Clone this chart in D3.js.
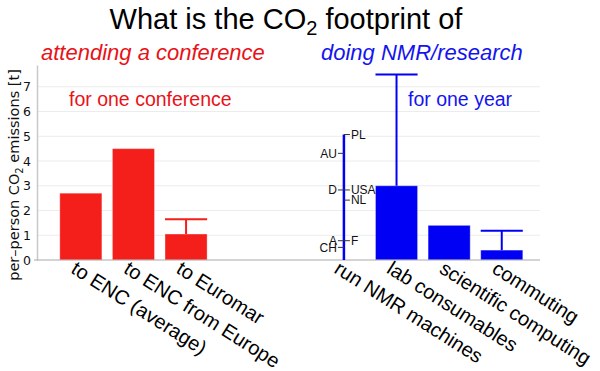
<!DOCTYPE html>
<html>
<head>
<meta charset="utf-8">
<script src="https://cdn.jsdelivr.net/npm/d3@7"></script>
<style>
  html, body { margin: 0; padding: 0; background: #fff; }
  svg { display: block; }
</style>
</head>
<body>
<svg id="chart" width="600" height="371"></svg>
<script>
// ---------- data ----------
const conferenceCategories = ["to ENC (average)", "to ENC from Europe", "to Euromar"];
const conferenceValues = [2.7, 4.5, 1.05];
const conferenceErrorTop = [null, null, 1.65];

const researchCategories = ["run NMR machines", "lab consumables", "scientific computing", "commuting"];
const researchValues = [null, 3.0, 1.4, 0.4];
const researchErrorTop = [null, 7.5, null, 1.18];

const countryNames = ["PL", "AU", "D", "USA", "NL", "A", "F", "CH"];
const countryValues = [5.07, 4.31, 2.83, 2.83, 2.42, 0.78, 0.78, 0.51];
const countrySides = ["right", "left", "left", "right", "right", "left", "right", "left"];

const spacerSlots = ["gap1", "gap2"];
const yTicks = [0, 1, 2, 3, 4, 5, 6, 7];

// ---------- setup ----------
const RED = "#f41e1a", RED_TEXT = "#e81218";
const BLUE = "#0000f5", BLUE_TEXT = "#1414ee";
const svg = d3.select("#chart");

const slots = [...conferenceCategories, ...spacerSlots, ...researchCategories];
const plotLeft = 37, plotRight = 540;
const x = d3.scaleBand().domain(slots).range([plotLeft, plotRight])
  .paddingInner(0.2).paddingOuter(0.38).align(0.57);
const y = d3.scaleLinear().domain([0, 7.88]).range([260, 65]);

// title
const title = svg.append("text").attr("x", 286).attr("y", 29)
  .attr("text-anchor", "middle").attr("font-family", "Liberation Sans, Arial, sans-serif")
  .attr("font-size", 29).attr("fill", "#000");
title.append("tspan").text("What is the CO");
title.append("tspan").attr("font-size", 20).attr("dy", 6).text("2");
title.append("tspan").attr("dy", -6).text(" footprint of");

svg.append("text").attr("x", 41).attr("y", 60)
  .attr("font-family", "Liberation Sans, Arial, sans-serif").attr("font-style", "italic")
  .attr("font-size", 22).attr("fill", RED_TEXT).text("attending a conference");
svg.append("text").attr("x", 321).attr("y", 60)
  .attr("font-family", "Liberation Sans, Arial, sans-serif").attr("font-style", "italic")
  .attr("font-size", 22).attr("fill", BLUE_TEXT).text("doing NMR/research");

// gridlines
svg.append("g").selectAll("line").data(yTicks.filter(d => d > 0)).join("line")
  .attr("x1", plotLeft).attr("x2", plotRight)
  .attr("y1", d => y(d)).attr("y2", d => y(d))
  .attr("stroke", "#ececec").attr("stroke-width", 1);

// y axis
const yAxis = d3.axisLeft(y).tickValues(yTicks).tickSize(0).tickPadding(6);
const gy = svg.append("g").attr("transform", `translate(${plotLeft},0)`).call(yAxis);
gy.select(".domain").attr("stroke", "#c8c8c8").attr("stroke-width", 1.5);
gy.selectAll("text").attr("font-family", "DejaVu Sans, sans-serif").attr("font-size", 12.5).attr("fill", "#111");

// y label
const yl = svg.append("text").attr("transform", "translate(19,175) rotate(-90)")
  .attr("text-anchor", "middle").attr("font-family", "DejaVu Sans, sans-serif")
  .attr("font-size", 14.5).attr("fill", "#111");
yl.append("tspan").text("per–person CO");
yl.append("tspan").attr("font-size", 10).attr("dy", 4).text("2");
yl.append("tspan").attr("dy", -4).text(" emissions [t]");

// in-plot notes
svg.append("text").attr("x", 69).attr("y", 106)
  .attr("font-family", "Liberation Sans, Arial, sans-serif").attr("font-size", 19.5)
  .attr("fill", RED_TEXT).text("for one conference");
svg.append("text").attr("x", 408).attr("y", 106)
  .attr("font-family", "Liberation Sans, Arial, sans-serif").attr("font-size", 19.5)
  .attr("fill", BLUE_TEXT).text("for one year");

// bars
const confData = conferenceCategories.map((c, i) => ({c, v: conferenceValues[i], e: conferenceErrorTop[i], color: RED}));
const resData = researchCategories.map((c, i) => ({c, v: researchValues[i], e: researchErrorTop[i], color: BLUE}));
const barData = [...confData, ...resData].filter(d => d.v != null);

svg.append("g").selectAll("rect").data(barData).join("rect")
  .attr("x", d => x(d.c)).attr("width", x.bandwidth())
  .attr("y", d => y(d.v)).attr("height", d => y(0) - y(d.v))
  .attr("fill", d => d.color)
  .attr("stroke", "rgba(255,255,255,0.35)").attr("stroke-width", 1);

// error bars
const errData = [...confData, ...resData].filter(d => d.e != null && d.v != null);
const ge = svg.append("g");
ge.selectAll("line.v").data(errData).join("line").attr("class", "v")
  .attr("x1", d => x(d.c) + x.bandwidth() / 2).attr("x2", d => x(d.c) + x.bandwidth() / 2)
  .attr("y1", d => y(d.v)).attr("y2", d => y(d.e))
  .attr("stroke", d => d.color).attr("stroke-width", 2);
ge.selectAll("line.h").data(errData).join("line").attr("class", "h")
  .attr("x1", d => x(d.c)).attr("x2", d => x(d.c) + x.bandwidth())
  .attr("y1", d => y(d.e)).attr("y2", d => y(d.e))
  .attr("stroke", d => d.color).attr("stroke-width", 2);

// baseline
svg.append("line").attr("x1", plotLeft - 3).attr("x2", plotRight)
  .attr("y1", y(0)).attr("y2", y(0)).attr("stroke", "#aaa").attr("stroke-width", 1.2);

// country scale for NMR machines
const cx = x("run NMR machines") + x.bandwidth() / 2;
svg.append("line").attr("x1", cx).attr("x2", cx)
  .attr("y1", y(0)).attr("y2", y(d3.max(countryValues)))
  .attr("stroke", BLUE).attr("stroke-width", 2.5);
const countries = countryNames.map((n, i) => ({n, v: countryValues[i], s: countrySides[i]}));
const gc = svg.append("g");
gc.selectAll("line").data(countries).join("line")
  .attr("x1", d => d.s === "left" ? cx - 6 : cx).attr("x2", d => d.s === "left" ? cx : cx + 6)
  .attr("y1", d => y(d.v)).attr("y2", d => y(d.v))
  .attr("stroke", "#333").attr("stroke-width", 1);
gc.selectAll("text").data(countries).join("text")
  .attr("x", d => d.s === "left" ? cx - 7 : cx + 7).attr("y", d => y(d.v))
  .attr("dy", "0.35em").attr("text-anchor", d => d.s === "left" ? "end" : "start")
  .attr("font-family", "Liberation Sans, Arial, sans-serif").attr("font-size", 12)
  .attr("fill", "#111").text(d => d.n);

// x labels
svg.append("g").selectAll("text").data([...conferenceCategories, ...researchCategories]).join("text")
  .attr("transform", d => `translate(${x(d) + x.bandwidth() / 2 - 11},272) rotate(32.5)`)
  .attr("font-family", "Liberation Sans, Arial, sans-serif").attr("font-size", 20)
  .attr("fill", "#000").text(d => d);
</script>
</body>
</html>
